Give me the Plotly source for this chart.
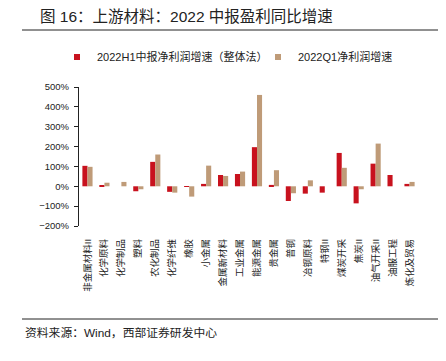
import plotly.graph_objects as go

categories = ["非金属材料II", "化学原料", "化学制品", "塑料", "农化制品", "化学纤维", "橡胶",
              "小金属", "金属新材料", "工业金属", "能源金属", "贵金属", "普钢", "冶钢原料",
              "特钢II", "煤炭开采", "焦炭II", "油气开采II", "油服工程", "炼化及贸易"]
h1_growth = [103, 3, 0, -25, 123, -28, -3, 12, 57, 62, 197, 7, -74, -37, -32, 168, -86, 114, 57, 12]
q1_growth = [98, 18, 22, -15, 160, -32, -52, 104, 52, 74, 460, 81, -35, 30, 0, 93, -15, 215, 0, 22]
y_ticks = [-200, -100, 0, 100, 200, 300, 400, 500]
y_tick_labels = [("−" if v < 0 else "") + f"{abs(v)}%" for v in y_ticks]

name_h1 = "2022H1中报净利润增速（整体法）"
name_q1 = "2022Q1净利润增速"
title_text = "图 16：上游材料：2022 中报盈利同比增速"
source_text = "资料来源：Wind，西部证券研发中心"

RED = "#C8121E"
TAN = "#BF9B78"
TXT = "#222222"
FONT = "Liberation Sans, Arial, Noto Sans CJK SC, sans-serif"

W, H = 446, 361
OFF = 8  # page body margin offset
L, T, PW, PH = 79 - OFF, 87 - OFF, 339, 139

def px_x(x):  # window px -> paper x
    return (x - OFF - L) / PW

def px_y(y):  # window px -> paper y
    return (T + PH - (y - OFF)) / PH

fig = go.Figure()
fig.add_trace(go.Bar(x=categories, y=h1_growth, name=name_h1, marker_color=RED,
                     marker_line_width=0, showlegend=False))
fig.add_trace(go.Bar(x=categories, y=q1_growth, name=name_q1, marker_color=TAN,
                     marker_line_width=0, showlegend=False))
# legend-only entries with small square swatches
for nm, col in [(name_h1, RED), (name_q1, TAN)]:
    fig.add_trace(go.Scatter(x=[None], y=[None], mode="markers", name=nm,
                             marker=dict(symbol="square", size=6, color=col),
                             showlegend=True))

ymin, ymax = -200, 500
zero_pos = (0 - ymin) / (ymax - ymin)

fig.update_layout(
    width=W, height=H,
    margin=dict(l=L, r=W - L - PW, t=T, b=H - T - PH, autoexpand=False),
    paper_bgcolor="white", plot_bgcolor="white",
    font=dict(family=FONT, color=TXT, size=10),
    barmode="group", bargap=0.4, bargroupgap=0,
    showlegend=True,
    legend=dict(orientation="h", xref="paper", yref="paper",
                x=px_x(57), xanchor="left", y=px_y(57), yanchor="middle",
                font=dict(size=11, color=TXT), itemwidth=30,
                entrywidth=156, entrywidthmode="pixels",
                bgcolor="rgba(0,0,0,0)"),
    xaxis=dict(type="category", categoryorder="array", categoryarray=categories,
               showline=False, ticks="", tickangle=-90, showgrid=False,
               tickfont=dict(size=9.5, color=TXT), ticklabelstandoff=10,
               zeroline=False, automargin=False),
    xaxis2=dict(type="category", categoryorder="array", categoryarray=categories,
                matches="x", overlaying="x", anchor="free", position=zero_pos,
                showline=True, linecolor=TXT, linewidth=1.2,
                ticks="outside", tickson="boundaries", ticklen=4, tickcolor=TXT,
                showticklabels=False, showgrid=False, zeroline=False, automargin=False),
    yaxis=dict(range=[ymin, ymax], tickmode="array", tickvals=y_ticks, ticktext=y_tick_labels,
               showline=True, linecolor=TXT, linewidth=1.2,
               ticks="outside", ticklen=4, tickcolor=TXT, ticklabelstandoff=3,
               showgrid=False, zeroline=False, automargin=False,
               tickfont=dict(size=9.5, color=TXT)),
)

fig.add_annotation(text=title_text, xref="paper", yref="paper",
                   x=px_x(38), y=px_y(16), xanchor="left", yanchor="middle",
                   showarrow=False, font=dict(size=15.5, color=TXT))

fig.add_annotation(text=source_text, xref="paper", yref="paper",
                   x=px_x(23), y=px_y(333), xanchor="left", yanchor="middle",
                   showarrow=False, font=dict(size=11.8, color=TXT))

for yy in [px_y(30), px_y(319)]:
    fig.add_shape(type="line", xref="paper", yref="paper",
                  x0=px_x(22), x1=px_x(438), y0=yy, y1=yy,
                  line=dict(color=TXT, width=1))

fig.write_html("out.html")
